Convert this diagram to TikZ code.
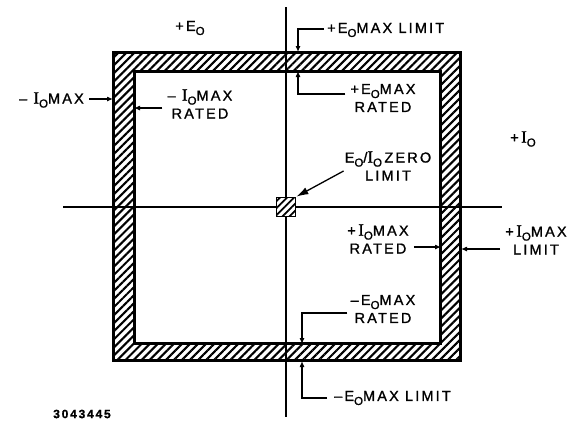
\documentclass[tikz,border=0pt]{standalone}
\usepackage{fontspec}
\setmainfont{Liberation Sans}[LetterSpace=15,FakeBold=1.2]
\newfontfamily\serifI{Liberation Serif}[FakeBold=1.2]
\usetikzlibrary{arrows.meta,patterns.meta}

\newcommand\subO{\raisebox{-4pt}{\fontsize{11.5}{11.5}\selectfont O}}
\newcommand\Iser{{\serifI\fontsize{17}{17}\selectfont I}}

\begin{document}
\begin{tikzpicture}[
  x=1pt, y=-1pt,
  font=\fontsize{14.5}{18}\selectfont,
  lbl/.style = {align=center, inner sep=0pt},
  band/.style = {pattern={Lines[angle=45,distance=5.7pt,line width=2.1pt]}, even odd rule},
  edge/.style = {draw, line width=2pt, inner sep=0pt},
  axis/.style = {line width=1.4pt},
  lead/.style = {line width=1.1pt, -{Latex[length=6pt,width=5pt]}},
  bigarr/.style = {line width=1.3pt, -{Latex[length=12pt,width=7.5pt]}},
]
\useasboundingbox (0,0) rectangle (571,421);

% ---------- limit and rated boxes ----------
\node[edge, minimum width=346pt, minimum height=307pt] (outer) at (287,206.5) {};
\node[edge, minimum width=305pt, minimum height=271pt] (inner) at (287.5,207.5) {};
\fill[band] (outer.north west) rectangle (outer.south east)
            (inner.north west) rectangle (inner.south east);
\draw[line width=2pt] (outer.north west) rectangle (outer.south east);
\draw[line width=2pt] (inner.north west) rectangle (inner.south east);

% ---------- axes ----------
\coordinate (etop) at (286,7);
\coordinate (ebot) at (286,417);
\coordinate (ileft) at (63,207);
\coordinate (iright) at (502,207);
\draw[axis] (etop) -- (ebot);
\draw[axis] (ileft) -- (iright);

\node[draw, line width=1pt, minimum size=19pt, inner sep=0pt,
      preaction={fill=white},
      pattern={Lines[angle=45,distance=5pt,line width=1.8pt]}] (zsq) at (286,207) {};

% ---------- axis labels ----------
\node[lbl] (eplus) at (190,28) {+E\subO};
\node[lbl] (iplus) at (523,139) {+\,\Iser\subO};

% ---------- limit labels ----------
\node[lbl, anchor=east] (imlim) at (84,100) {\textendash\ \Iser\subO MAX};
\node[lbl] (imrated) at (200,104) {\textendash\ \Iser\subO MAX\\RATED};
\node[lbl, anchor=west] (eplim) at (327,30) {+E\subO MAX LIMIT};
\node[lbl] (eprated) at (383,98) {+E\subO MAX\\RATED};
\node[lbl] (zero) at (388,166) {E\subO/\Iser\subO\,ZERO\\LIMIT};
\node[lbl] (iprated) at (378,239) {+\,\Iser\subO MAX\\RATED};
\node[lbl] (iplim) at (536,240) {+\,\Iser\subO MAX\\LIMIT};
\node[lbl] (emrated) at (383,309) {\textendash E\subO MAX\\RATED};
\node[lbl, anchor=west] (emlim) at (334,398) {\textendash E\subO MAX LIMIT};

\node[lbl, font=\fontsize{12}{13}\selectfont\bfseries] (fignum) at (82,414) {3043445};

% ---------- leaders ----------
\draw[lead] ([xshift=5pt,yshift=1pt]imlim.east) -- ([yshift=1pt]imlim.east -| outer.west);
\draw[lead] ([xshift=-5pt,yshift=-4pt]imrated.west) -- ([yshift=-4pt]imrated.west -| inner.west);
\draw[lead] ([xshift=-3pt,yshift=1pt]eplim.west) -| ([xshift=12pt]outer.north -| zsq.center);
\draw[lead] ([xshift=-5pt,yshift=4pt]eprated.west) -| ([xshift=12pt]inner.north -| zsq.center);
\draw[lead] ([xshift=-3pt,yshift=-4pt]emrated.west) -| ([xshift=16pt]inner.south -| zsq.center);
\draw[lead] ([xshift=-7pt]emlim.west) -| ([xshift=16pt]outer.south -| zsq.center);
\draw[lead] ([xshift=5pt,yshift=-8pt]iprated.east) -- ([yshift=-8pt]iprated.east -| inner.east);
\draw[lead] ([xshift=-5pt,yshift=-9pt]iplim.west) -- ([yshift=-9pt]iplim.west -| outer.east);
\draw[bigarr] ([xshift=-1pt,yshift=-5pt]zero.west) -- (zsq.north east);

\end{tikzpicture}
\end{document}
